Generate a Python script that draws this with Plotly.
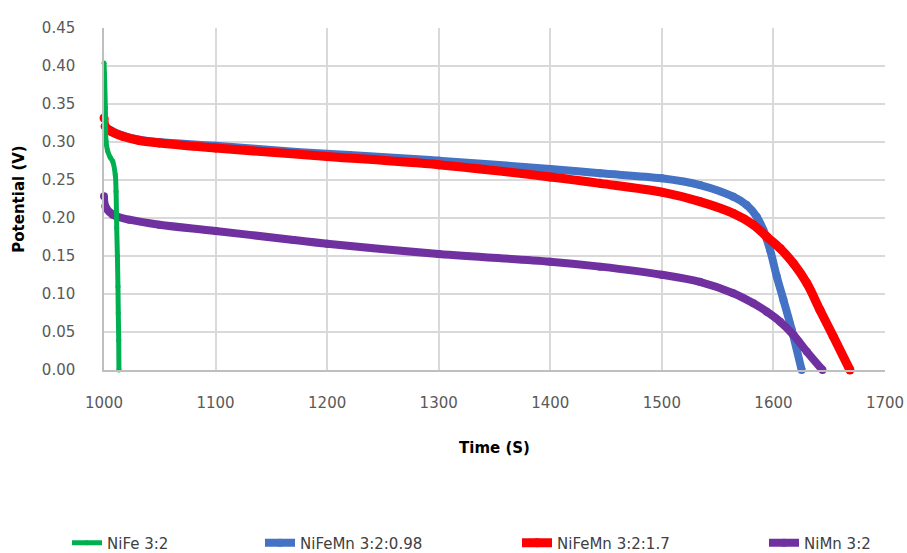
import plotly.graph_objects as go

# Discharge curves: time (s) vs potential (V)
nife_t = [1000, 1000.4, 1001.2, 1001.8, 1003.3, 1005.5, 1007.8, 1010.1, 1010.8, 1011.4, 1012.0, 1012.5, 1012.8, 1013.2, 1013.4]
nife_v = [0.404, 0.390, 0.345, 0.301, 0.288, 0.280, 0.2746, 0.257, 0.235, 0.187, 0.150, 0.110, 0.075, 0.039, 0.000]

nifemn098_t = [1000, 1001, 1006.3, 1016.7, 1031.6, 1049.6, 1100, 1173, 1220, 1300, 1400, 1444.6, 1499.8, 1534.2, 1564, 1576, 1585, 1591, 1597, 1603, 1609, 1616.4, 1625.3]
nifemn098_v = [0.3316, 0.3206, 0.315, 0.3085, 0.303, 0.300, 0.295, 0.287, 0.283, 0.2755, 0.2645, 0.2588, 0.2522, 0.2434, 0.228, 0.217, 0.2017, 0.184, 0.158, 0.123, 0.092, 0.053, 0.000]

nifemn17_t = [1000, 1001, 1006.3, 1016.7, 1031.6, 1049.6, 1100, 1200, 1300, 1400, 1444.6, 1500, 1534.2, 1564, 1582, 1594, 1606, 1618, 1630, 1641.7, 1653.7, 1668.6]
nifemn17_v = [0.3316, 0.3206, 0.314, 0.3075, 0.302, 0.2987, 0.292, 0.281, 0.270, 0.254, 0.2456, 0.234, 0.2215, 0.206, 0.191, 0.1754, 0.160, 0.140, 0.114, 0.079, 0.044, 0.000]

nimn_t = [1000, 1001.2, 1007.8, 1022.7, 1049.6, 1100, 1170, 1200, 1300, 1400, 1444.6, 1499.8, 1534, 1564, 1582, 1594, 1606, 1618, 1630, 1644]
nimn_v = [0.2285, 0.2154, 0.2044, 0.1978, 0.1912, 0.183, 0.171, 0.166, 0.1526, 0.1425, 0.136, 0.1254, 0.116, 0.101, 0.0877, 0.0768, 0.0636, 0.046, 0.024, 0.000]

x_ticks = [1000, 1100, 1200, 1300, 1400, 1500, 1600, 1700]
y_ticks = [0.00, 0.05, 0.10, 0.15, 0.20, 0.25, 0.30, 0.35, 0.40, 0.45]

series = [
    # name, t, v, colour, line width, legend id
    ("NiFeMn 3:2:0.98", nifemn098_t, nifemn098_v, "#4472C4", 8, "legend2"),
    ("NiFeMn 3:2:1.7", nifemn17_t, nifemn17_v, "#FF0000", 9, "legend3"),
    ("NiMn 3:2", nimn_t, nimn_v, "#7030A0", 8, "legend4"),
    ("NiFe 3:2", nife_t, nife_v, "#00B050", 5, "legend"),
]

fig = go.Figure()
for name, t, v, color, width, leg in series:
    fig.add_trace(go.Scatter(
        x=t, y=v, name=name, mode="lines+markers",
        line=dict(color=color, width=width, shape="spline", smoothing=1.0),
        marker=dict(color=color, size=width),
        cliponaxis=False,
        legend=leg,
    ))

L, R, T, B = 104, 22, 28, 183
W, H = 907, 553
pw, ph = W - L - R, H - T - B

def px_to_paper_x(px):
    return (px - L) / pw

def px_to_paper_y(py):
    return (H - B - py) / ph

legend_font = dict(family="DejaVu Sans, sans-serif", size=15, color="#404040")
legend_text_x = {"legend": 109, "legend2": 302, "legend3": 559, "legend4": 806}
legend_layout = {}
for key, tx in legend_text_x.items():
    legend_layout[key] = dict(
        x=px_to_paper_x(tx - 42), y=px_to_paper_y(543),
        xanchor="left", yanchor="middle",
        orientation="h", font=legend_font,
        bgcolor="rgba(0,0,0,0)", borderwidth=0,
    )

tick_font = dict(family="DejaVu Sans, sans-serif", size=15, color="#595959")
title_font = dict(family="DejaVu Sans, sans-serif", size=15, color="#000000")

fig.update_layout(
    width=W, height=H,
    margin=dict(l=L, r=R, t=T, b=B, autoexpand=False),
    paper_bgcolor="white", plot_bgcolor="white",
    showlegend=True,
    xaxis=dict(
        range=[1000, 1700], tickvals=x_ticks, ticktext=[str(v) for v in x_ticks],
        showgrid=True, gridcolor="#d9d9d9", gridwidth=1.5,
        showline=True, linecolor="#bfbfbf", linewidth=1.5,
        zeroline=False, ticks="", ticklabelstandoff=18,
        tickfont=tick_font,
        title=dict(text="<b>Time (S)</b>", font=title_font, standoff=32),
        automargin=False,
    ),
    yaxis=dict(
        range=[0, 0.45], tickvals=y_ticks, ticktext=[f"{v:.2f}" for v in y_ticks],
        showgrid=True, gridcolor="#d9d9d9", gridwidth=1.5,
        showline=True, linecolor="#bfbfbf", linewidth=1.5,
        zeroline=False, ticks="", ticklabelstandoff=24,
        tickfont=tick_font,
        title=dict(text="<b>Potential (V)</b>", font=title_font, standoff=14),
        automargin=False,
    ),
    **legend_layout,
)

fig.write_html("out.html")
